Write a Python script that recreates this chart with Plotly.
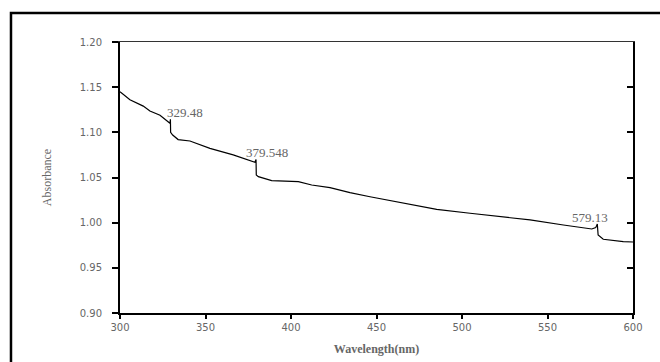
import plotly.graph_objects as go

wavelength = [300, 305.8, 313.6, 317.5, 323.4, 329.2, 329.48, 329.6, 330.8, 334, 340.9,
              352.6, 366.2, 378.9, 379.548, 379.7, 380.9, 388.7, 404.3, 412.1, 422.8,
              434.5, 446.2, 465.7, 485.2, 504.7, 524.2, 539.8, 559.3, 575.9, 578.2,
              579.13, 579.6, 582.6, 594.3, 600]
absorbance = [1.145, 1.136, 1.129, 1.1236, 1.119, 1.110, 1.1144, 1.100, 1.097, 1.092, 1.0904,
              1.0823, 1.075, 1.0668, 1.070, 1.0528, 1.051, 1.0465, 1.0454, 1.0417, 1.0387,
              1.0332, 1.0287, 1.0214, 1.0148, 1.0104, 1.0059, 1.003, 0.9974, 0.993, 0.9945,
              0.9985, 0.9864, 0.9816, 0.979, 0.9786]

peak_x = [329.48, 379.548, 579.13]
peak_y = [1.1144, 1.070, 0.9985]
peak_labels = ["329.48", "379.548", "579.13"]
peak_shift = [-5, -12, -27]

x_ticks = [300, 350, 400, 450, 500, 550, 600]
y_ticks = [0.90, 0.95, 1.00, 1.05, 1.10, 1.15, 1.20]
y_tick_labels = ["0.90", "0.95", "1.00", "1.05", "1.10", "1.15", "1.20"]

fig = go.Figure()
fig.add_trace(go.Scatter(x=wavelength, y=absorbance, mode="lines",
                         line=dict(color="black", width=1.2), showlegend=False,
                         hoverinfo="skip"))
fig.add_trace(go.Scatter(x=[300], y=[0.9], xaxis="x2", yaxis="y2", mode="markers",
                         marker=dict(opacity=0), showlegend=False, hoverinfo="skip"))

for px, py, lab, sh in zip(peak_x, peak_y, peak_labels, peak_shift):
    fig.add_annotation(x=px, y=py, text=lab, showarrow=False, xanchor="left",
                       yanchor="bottom", xshift=sh, yshift=-3,
                       font=dict(family="Liberation Serif", size=13, color="#666"))

tick_font = dict(family="DejaVu Sans", size=10, color="#666")
fig.update_layout(
    width=660, height=362,
    margin=dict(l=120, r=27, t=42, b=49, autoexpand=False),
    paper_bgcolor="white", plot_bgcolor="white",
    xaxis=dict(range=[300, 600], tickvals=x_ticks, ticks="outside", ticklen=4,
               tickwidth=1.5, tickcolor="black", showline=True, linecolor="black",
               linewidth=2, showgrid=False, zeroline=False, tickfont=tick_font,
               automargin=False,
               title=dict(text="<b>Wavelength(nm)</b>", standoff=13,
                          font=dict(family="Liberation Serif", size=12, color="#666"))),
    yaxis=dict(range=[0.90, 1.20], tickvals=y_ticks, ticktext=y_tick_labels,
               ticks="outside", ticklen=6, tickwidth=1.5, tickcolor="black",
               ticklabelstandoff=8, automargin=False,
               showline=True, linecolor="black", linewidth=2, showgrid=False,
               zeroline=False, tickfont=tick_font,
               title=dict(text="Absorbance", standoff=26,
                          font=dict(family="Liberation Serif", size=12, color="#666"))),
    xaxis2=dict(range=[300, 600], overlaying="x", side="top", showline=True,
                linecolor="#333", linewidth=1, ticks="", showticklabels=False,
                showgrid=False, zeroline=False, automargin=False),
    yaxis2=dict(range=[0.90, 1.20], overlaying="y", side="right", tickvals=y_ticks,
                ticks="inside", ticklen=6, tickwidth=1.5, tickcolor="black",
                showline=True, linecolor="black", linewidth=2, showticklabels=False,
                showgrid=False, zeroline=False, automargin=False),
)

fig.add_shape(type="rect", xref="paper", yref="paper", x0=-0.2125, x1=1.2,
              y0=-0.3, y1=1.107, line=dict(color="black", width=2.5),
              fillcolor="rgba(0,0,0,0)", layer="below")

fig.write_html("out.html")
